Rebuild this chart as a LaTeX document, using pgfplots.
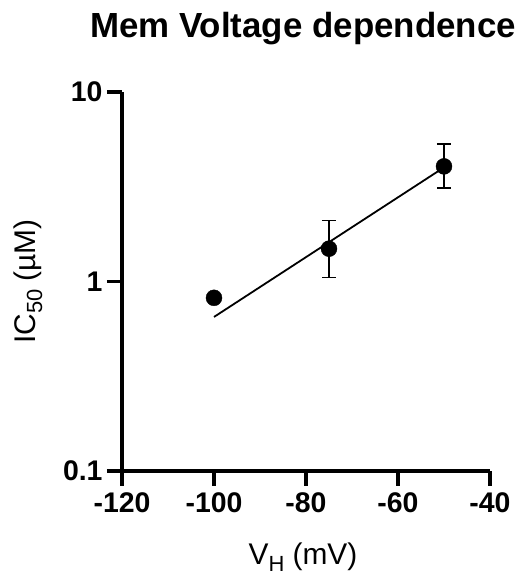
\documentclass[border=0pt]{standalone}
\usepackage{pgfplots}
\pgfplotsset{compat=1.18}
\usepackage{fontspec}
\setmainfont{Liberation Sans}
\newcommand{\sub}[1]{\raisebox{-0.22em}{\fontsize{22}{26}\selectfont #1}}
\begin{document}
\begin{tikzpicture}
\useasboundingbox (-122bp,-104bp) rectangle (399bp,471bp);
\begin{axis}[
  scale only axis,
  width=368bp, height=379bp,
  xmin=-120, xmax=-40,
  ymode=log, ymin=0.1, ymax=10,
  axis lines=left,
  axis line style={-, line width=3.3bp},
  every tick/.style={line width=3.3bp, black},
  tick align=outside,
  major tick length=15bp,
  xtick={-120,-100,-80,-60,-40},
  ytick={0.1,1,10},
  yticklabels={0.1,1,10},
  yminorticks=false,
  /pgf/number format/assume math mode=true,
  ticklabel style={font=\fontsize{28.5}{32}\selectfont\bfseries},
  xticklabel style={yshift=-3bp},
  yticklabel style={xshift=-1bp},
  label style={font=\fontsize{30}{36}\selectfont},
  xlabel={V\sub{H} (mV)},
  ylabel={IC\sub{50} (µM)},
  xlabel style={at={(axis description cs:0.4918,-0.247)}, anchor=base},
  ylabel style={at={(axis description cs:-0.2554,0.5)}, anchor=center},
  title={Mem Voltage dependence},
  title style={at={(axis description cs:0.4918,1.129)}, anchor=base, inner sep=0pt, font=\fontsize{35}{40}\selectfont\bfseries},
  clip=false,
]
\addplot[black, line width=1.8bp] coordinates {(-100,0.65) (-50,4.0)};
\addplot[black, only marks, mark=*, mark size=8bp,
  error bars/.cd, y dir=both, y explicit, error mark options={rotate=90, mark size=7bp, line width=1.8bp},
  error bar style={line width=1.8bp}]
  coordinates {
  (-100,0.82) +- (0,0)
  (-75,1.49) += (0,0.61) -= (0,0.44)
  (-50,4.05) += (0,1.25) -= (0,0.95)
};
\end{axis}
\end{tikzpicture}
\end{document}
